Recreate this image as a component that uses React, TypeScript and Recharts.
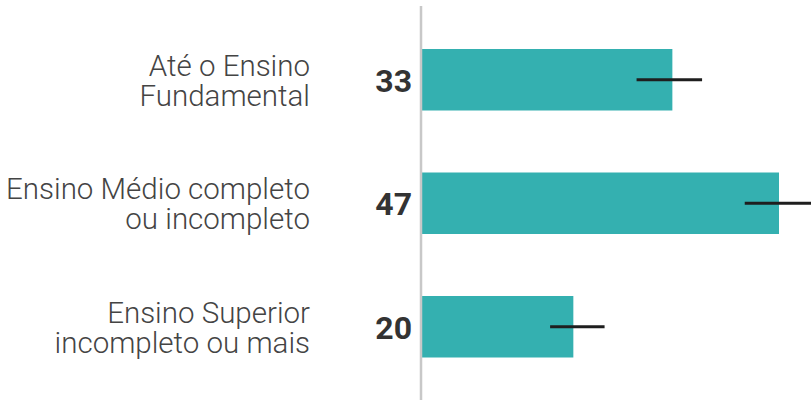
import React from "react";
import { BarChart, Bar, XAxis, YAxis, ErrorBar } from "recharts";

const categories = [
  "Até o Ensino\nFundamental",
  "Ensino Médio completo\nou incompleto",
  "Ensino Superior\nincompleto ou mais",
];
const values = [33, 47, 20];
const errLow = [4.7, 4.5, 3.05];
const errHigh = [3.9, 4.2, 4.1];

const data = categories.map((c, i) => ({
  name: c,
  value: values[i],
  err: [errLow[i], errHigh[i]],
}));

const CatTick = (props: any) => {
  const { y, payload, index } = props;
  const lines = String(payload.value).split("\n");
  const v = values[index ?? 0];
  return (
    <g>
      <text
        x={310}
        y={y}
        textAnchor="end"
        fontFamily="Roboto"
        fontWeight={300}
        fontSize={29.5}
        fill="#444"
      >
        <tspan x={310} y={y - 4}>{lines[0]}</tspan>
        <tspan x={310} y={y + 26}>{lines[1]}</tspan>
      </text>
      <text
        x={412}
        y={y + 12}
        textAnchor="end"
        fontFamily="Roboto"
        fontWeight={700}
        fontSize={32}
        fill="#333"
      >
        {v}
      </text>
    </g>
  );
};

export default function App() {
  return (
    <div style={{ position: "absolute", left: 0, top: 0 }}>
      <BarChart
        width={811}
        height={400}
        data={data}
        layout="vertical"
        margin={{ top: 6, right: 0, bottom: 0, left: 0 }}
      >
        <XAxis type="number" domain={[0, 51.1]} hide />
        <YAxis
          type="category"
          dataKey="name"
          width={421}
          axisLine={{ stroke: "#c8c8c8", strokeWidth: 2.5 }}
          tickLine={false}
          padding={{ top: 12, bottom: 11.5 }}
          tick={<CatTick />}
          interval={0}
        />
        <Bar dataKey="value" fill="#34b0b0" barSize={61.5} isAnimationActive={false}>
          <ErrorBar
            dataKey="err"
            direction="x"
            width={0}
            stroke="#1e1e1e"
            strokeWidth={3}
          />
        </Bar>
      </BarChart>
    </div>
  );
}
